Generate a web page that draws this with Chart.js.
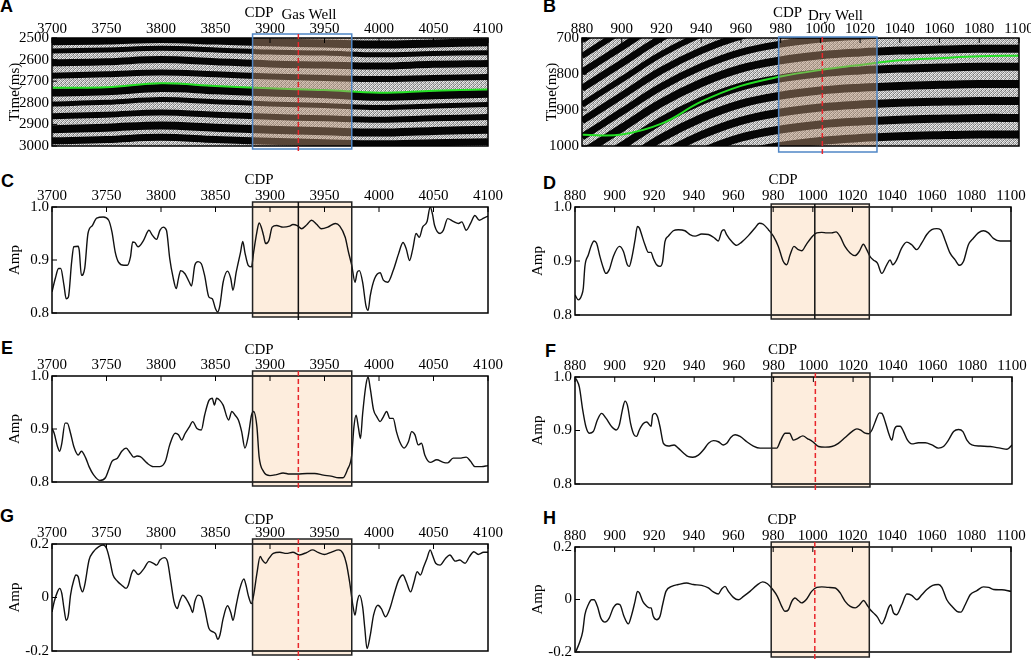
<!DOCTYPE html>
<html>
<head>
<meta charset="utf-8">
<script src="https://cdn.jsdelivr.net/npm/chart.js@4.4.1/dist/chart.umd.min.js"></script>
<style>
  body { margin: 0; background: #fff; width: 1031px; height: 660px; position: relative; overflow: hidden; }
  canvas { position: absolute; }
  .tag { position: absolute; font: bold 18px "Liberation Sans", Arial, sans-serif; color: #000; }
</style>
</head>
<body>
<div class="tag" style="left:0px;top:-4px">A</div>
<div class="tag" style="left:543px;top:-4px">B</div>
<div class="tag" style="left:1px;top:171px">C</div>
<div class="tag" style="left:543px;top:173px">D</div>
<div class="tag" style="left:1px;top:338px">E</div>
<div class="tag" style="left:545px;top:341px">F</div>
<div class="tag" style="left:0px;top:506px">G</div>
<div class="tag" style="left:543px;top:508px">H</div>

<canvas id="pA" width="510" height="160" style="left:0;top:0"></canvas>
<canvas id="pB" width="511" height="160" style="left:520px;top:0"></canvas>
<canvas id="pC" width="510" height="160" style="left:0;top:165px"></canvas>
<canvas id="pD" width="511" height="160" style="left:520px;top:165px"></canvas>
<canvas id="pE" width="510" height="160" style="left:0;top:330px"></canvas>
<canvas id="pF" width="511" height="160" style="left:520px;top:330px"></canvas>
<canvas id="pG" width="510" height="165" style="left:0;top:495px"></canvas>
<canvas id="pH" width="511" height="165" style="left:520px;top:495px"></canvas>

<script>
// ---------- data ----------
// seismic sections: horizon picks and main reflectors, time (ms) at CDP nodes
const nodesA = [3700, 3750, 3800, 3850, 3900, 3950, 4000, 4050, 4100];
const horizonA = [2730, 2728, 2710, 2722, 2733, 2741, 2753, 2744, 2738];
const reflectorsA = [
  [2515, 2512, 2505, 2512, 2520, 2525, 2530, 2525, 2520],
  [2560, 2555, 2548, 2555, 2565, 2570, 2578, 2572, 2568],
  [2615, 2610, 2600, 2610, 2620, 2625, 2630, 2622, 2618],
  [2675, 2668, 2660, 2668, 2678, 2685, 2690, 2685, 2680],
  [2752, 2747, 2732, 2742, 2752, 2760, 2772, 2765, 2758],
  [2805, 2798, 2785, 2795, 2805, 2812, 2822, 2815, 2808],
  [2862, 2855, 2845, 2855, 2865, 2872, 2878, 2872, 2866],
  [2922, 2915, 2905, 2915, 2925, 2932, 2938, 2930, 2925],
  [2976, 2970, 2960, 2970, 2978, 2985, 2990, 2985, 2980]
];

const nodesB = [880, 900, 920, 940, 960, 980, 1000, 1020, 1040, 1060, 1080, 1100];
const horizonB = [969, 968, 938, 877, 833, 807, 789, 775, 762, 756, 751, 749];
const reflectorsB = [
  [660, 590, 520, 465, 425, 402, 388, 380, 375, 372, 370, 370],
  [705, 635, 565, 510, 470, 447, 433, 425, 420, 417, 415, 415],
  [750, 680, 610, 555, 515, 492, 478, 470, 465, 462, 460, 460],
  [795, 725, 655, 600, 560, 537, 523, 515, 510, 507, 505, 505],
  [840, 770, 700, 645, 605, 582, 568, 560, 555, 552, 550, 550],
  [885, 815, 745, 690, 650, 627, 613, 605, 600, 597, 595, 595],
  [930, 860, 790, 735, 695, 672, 658, 650, 645, 642, 640, 640],
  [975, 905, 835, 780, 740, 717, 703, 695, 690, 687, 685, 685],
  [1020, 950, 880, 825, 785, 762, 748, 740, 735, 732, 730, 730],
  [1070, 1000, 930, 875, 835, 812, 798, 790, 785, 782, 780, 780],
  [1118, 1048, 978, 923, 883, 860, 846, 838, 833, 830, 828, 828],
  [1165, 1095, 1025, 970, 930, 907, 893, 885, 880, 877, 875, 875],
  [1212, 1142, 1072, 1017, 977, 954, 940, 932, 927, 924, 922, 922],
  [1258, 1188, 1118, 1063, 1023, 1000, 986, 978, 973, 970, 968, 968]
];

// C: gas well, attribute 1
const cdpC = [3700,3703,3706,3708,3711,3713,3715,3718,3720,3724,3725,3727,3730,3733,3737,3741,3747,3752,3755,3758,
  3761,3766,3769,3772,3774,3776,3779,3784,3789,3792,3796,3799,3802,3805,3808,3811,3814,3816,3818,3822,
  3826,3828,3831,3834,3837,3840,3844,3847,3850,3852,3854,3857,3861,3864,3866,3869,3873,3875,3877,3880,
  3883,3885,3888,3890,3892,3894,3896,3899,3902,3906,3912,3918,3921,3925,3929,3934,3938,3943,3947,3953,
  3960,3964,3969,3972,3975,3978,3980,3982,3985,3988,3990,3992,3996,4001,4004,4008,4013,4018,4022,4025,
  4028,4031,4034,4037,4040,4044,4047,4049,4051,4056,4059,4063,4068,4073,4076,4080,4084,4088,4092,4096,4100];
const ampC = [.840,.865,.884,.884,.852,.827,.830,.896,.925,.926,.918,.871,.884,.950,.965,.979,.981,.975,.953,.915,
  .896,.890,.890,.906,.934,.933,.925,.937,.956,.947,.939,.956,.962,.956,.903,.868,.846,.865,.880,.874,
  .858,.851,.890,.897,.893,.871,.830,.827,.808,.802,.814,.858,.879,.865,.843,.877,.915,.935,.914,.890,
  .887,.915,.953,.970,.962,.947,.931,.937,.962,.965,.962,.964,.967,.965,.959,.967,.975,.967,.959,.962,
  .969,.964,.943,.915,.890,.858,.877,.880,.858,.814,.805,.833,.865,.876,.862,.858,.880,.912,.933,.921,
  .899,.921,.950,.943,.962,.972,1.000,.987,.965,.950,.956,.978,.973,.969,.972,.956,.969,.984,.975,.979,.983];

// D: dry well, attribute 1
const cdpD = [880.0,881.7,883.4,884.2,885.0,886.7,888.4,889.6,890.9,892.6,894.3,895.6,897.3,899.3,902.4,904.4,906.4,907.4,908.6,910.3,
  911.5,912.5,913.6,915.3,917.0,918.4,919.5,921.2,922.9,924.2,925.4,927.1,929.6,932.1,935.5,938.0,940.6,943.9,947.3,950.6,
  952.3,954.0,955.2,956.5,959.1,961.6,964.1,967.5,970.8,973.0,975.0,977.6,980.1,982.6,985.1,986.8,988.5,990.5,992.7,994.4,
  996.6,999.4,1002.0,1004.5,1007.0,1009.5,1011.7,1013.7,1016.2,1018.8,1021.3,1023.5,1025.5,1027.2,1028.9,1030.5,1032.6,1034.8,1037.3,1039.0,
  1040.3,1042.3,1044.8,1047.4,1049.9,1052.4,1054.9,1057.5,1060.0,1062.5,1064.5,1066.7,1069.2,1071.8,1074.0,1076.0,1078.5,1081.0,1083.5,1086.1,
  1088.6,1091.1,1094.5,1100];
const ampD = [.837,.828,.837,.850,.890,.911,.930,.937,.933,.908,.887,.877,.884,.908,.927,.918,.893,.890,.905,.939,
  .964,.961,.949,.930,.916,.916,.905,.893,.890,.899,.936,.946,.956,.958,.956,.949,.946,.950,.949,.942,
  .937,.955,.958,.949,.936,.929,.935,.947,.961,.970,.968,.958,.946,.927,.899,.893,.911,.927,.921,.919,
  .930,.944,.952,.953,.952,.952,.954,.946,.927,.915,.910,.918,.931,.921,.908,.902,.896,.877,.893,.902,
  .893,.902,.924,.935,.930,.921,.933,.949,.958,.960,.958,.939,.915,.902,.892,.899,.930,.942,.952,.956,
  .952,.942,.937,.937];

// E: gas well, attribute 2
const cdpE = [3700,3702,3705,3707,3709,3712,3714,3717,3720,3724,3727,3731,3734,3738,3744,3749,3752,3755,3760,3764,
  3768,3772,3775,3778,3781,3787,3793,3799,3804,3808,3813,3816,3819,3822,3826,3829,3833,3837,3840,3844,
  3847,3849,3851,3854,3857,3862,3865,3868,3871,3874,3877,3880,3883,3885,3888,3890,3894,3900,3906,3912,
  3918,3925,3934,3941,3949,3956,3963,3967,3971,3975,3977,3979,3981,3983,3985,3988,3990,3992,3995,3998,
  4001,4004,4007,4010,4013,4016,4019,4023,4027,4030,4033,4036,4039,4042,4047,4053,4059,4063,4068,4074,
  4080,4084,4088,4094,4100];
const ampE = [.901,.892,.867,.858,.873,.911,.911,.892,.867,.851,.858,.845,.829,.814,.803,.808,.823,.839,.845,.858,
  .864,.854,.847,.849,.848,.836,.829,.829,.839,.870,.892,.889,.879,.891,.904,.914,.901,.898,.926,.954,
  .958,.945,.958,.954,.945,.917,.933,.926,.917,.895,.864,.886,.926,.933,.904,.848,.820,.812,.814,.817,
  .815,.815,.816,.816,.813,.811,.808,.808,.823,.851,.904,.926,.904,.882,.929,.983,.998,.976,.936,.923,
  .914,.923,.933,.920,.920,.895,.876,.864,.876,.895,.889,.870,.873,.851,.837,.842,.837,.836,.845,.845,
  .847,.839,.829,.829,.831];

// F: dry well, attribute 2
const cdpF = [880.5,882.2,883.9,885.5,887.2,889.2,891.3,893.4,895.6,898.5,900.7,902.3,904.0,905.2,906.4,908.0,909.7,911.0,912.4,914.4,
  916.1,918.3,919.1,920.3,921.5,922.8,924.5,927.0,929.9,932.0,934.6,937.1,939.3,942.1,944.7,947.2,949.7,952.2,954.7,956.4,
  958.4,960.6,963.1,966.5,969.8,973.2,977.4,981.6,983.6,985.8,988.0,990.0,992.0,994.7,997.0,999.7,1002.6,1005.9,1009.3,1012.6,
  1016.0,1019.4,1021.9,1023.6,1026.1,1027.8,1029.5,1031.1,1033.3,1034.5,1036.2,1037.9,1039.5,1040.7,1042.1,1043.7,1045.4,1047.4,1049.6,1052.9,
  1056.3,1059.7,1063.0,1065.5,1068.0,1070.6,1073.1,1075.3,1077.3,1079.8,1084.0,1089.1,1094.1,1097.5,1100];
const ampF = [.997,.981,.938,.907,.895,.898,.920,.932,.923,.907,.901,.910,.941,.955,.947,.913,.892,.889,.901,.913,
  .916,.908,.929,.932,.926,.907,.876,.871,.873,.867,.858,.851,.850,.854,.864,.876,.881,.879,.873,.876,
  .887,.892,.889,.879,.871,.867,.867,.867,.882,.895,.895,.882,.885,.890,.885,.879,.870,.869,.870,.876,
  .887,.898,.903,.901,.895,.894,.901,.916,.933,.932,.916,.895,.882,.901,.908,.908,.898,.882,.875,.877,
  .877,.873,.867,.870,.882,.898,.902,.898,.882,.873,.871,.870,.867,.865,.873];

// G: gas well, attribute 3
const cdpG = [3700,3702,3705,3707,3709,3711,3713,3715,3717,3720,3722,3724,3726,3728,3730,3734,3738,3743,3747,3750,
  3753,3756,3760,3764,3768,3770,3773,3775,3779,3784,3789,3793,3796,3799,3803,3806,3809,3812,3815,3817,
  3820,3823,3827,3829,3831,3834,3837,3840,3844,3848,3850,3852,3854,3857,3861,3864,3866,3869,3872,3876,
  3878,3880,3883,3885,3888,3891,3893,3896,3899,3903,3909,3915,3921,3927,3934,3939,3944,3950,3956,3963,
  3967,3970,3973,3976,3978,3980,3982,3985,3987,3989,3992,3995,3999,4002,4006,4010,4014,4018,4022,4025,
  4029,4032,4035,4038,4041,4044,4047,4049,4052,4056,4061,4065,4070,4074,4079,4083,4087,4091,4096,4100];
const ampG = [-.054,-.016,.021,.034,.015,-.041,-.085,-.066,.009,.065,.084,.078,.040,.021,.046,.140,.171,.190,.196,.184,
  .140,.084,.061,.046,.034,.046,.090,.103,.086,.106,.134,.128,.121,.140,.149,.134,.059,-.016,-.041,-.016,
  .009,-.004,-.035,-.056,-.016,.009,.003,-.041,-.116,-.129,-.135,-.156,-.141,-.079,-.031,-.056,-.085,-.029,.028,.069,
  .046,.009,-.023,.009,.090,.153,.140,.128,.146,.165,.169,.165,.169,.159,.169,.178,.169,.161,.169,.178,
  .165,.128,.059,-.029,-.066,-.016,.009,-.035,-.116,-.191,-.141,-.066,-.029,-.041,-.072,-.041,.015,.065,.084,.059,
  .021,.056,.096,.084,.115,.146,.178,.159,.128,.121,.146,.159,.136,.140,.128,.153,.171,.161,.169,.169];

// H: dry well, attribute 3
const cdpH = [880.5,882.2,883.9,885.0,886.7,888.4,889.6,891.3,893.0,895.1,897.3,899.3,901.4,902.7,904.7,906.9,908.6,910.3,911.5,912.5,
  914.2,916.2,917.5,918.4,919.5,921.2,922.9,924.2,925.9,928.8,932.1,936.3,939.7,943.9,947.3,949.8,952.3,954.0,955.7,957.4,
  959.9,962.4,965.0,968.3,971.7,974.7,977.1,979.8,982.1,984.3,986.0,987.7,989.4,991.0,992.7,994.4,996.6,999.4,1002.0,1004.5,
  1007.9,1011.3,1013.8,1016.3,1018.9,1021.4,1023.6,1025.6,1027.3,1029.0,1030.6,1032.7,1034.8,1036.5,1038.2,1039.3,1040.7,1042.3,1044.9,1047.4,
  1049.9,1052.5,1055.0,1057.5,1060.5,1063.4,1065.1,1067.6,1070.2,1072.7,1074.7,1076.9,1079.4,1082.8,1086.1,1088.7,1091.2,1095.4,1100];
const ampH = [-.197,-.166,-.121,-.058,-.020,-.001,-.001,-.026,-.070,-.086,-.070,-.032,-.017,-.020,-.064,-.093,-.058,-.007,.031,.025,
  -.007,-.026,-.032,-.032,-.064,-.077,-.064,-.020,.031,.050,.057,.063,.057,.054,.044,.029,.021,.040,.050,.031,
  .008,-.001,.012,.031,.054,.067,.060,.038,.012,-.026,-.045,-.039,-.007,.006,-.004,-.013,-.001,.031,.046,.048,
  .046,.044,.025,-.007,-.026,-.032,-.020,-.004,-.020,-.039,-.051,-.068,-.093,-.070,-.032,-.020,-.051,-.058,-.020,.021,
  .016,-.001,.018,.038,.054,.057,.046,-.001,-.026,-.045,-.048,-.020,.018,.034,.048,.046,.038,.037,.031];

// well windows (CDP) and well positions
const gasWindow = [3884, 3975], gasWell = 3926;
const dryWindow = [979, 1028.5], dryWell = 1001;

// ---------- helpers ----------
const serif = '"Liberation Serif", "Times New Roman", serif';
const tickFont = { family: serif, size: 15 };
Chart.defaults.font.family = serif;
Chart.defaults.color = '#000';

const pts = (xs, ys) => xs.map((v, i) => ({ x: v, y: ys[i] }));
const curve = (xs, ys) => ({
  data: pts(xs, ys), borderColor: '#111', borderWidth: 1.4,
  pointRadius: 0, cubicInterpolationMode: 'monotone'
});

// grey speckle tile for the seismic background
function speckle(ctx) {
  const tile = [235, 150, 210, 120, 170, 225, 130, 240, 215, 110, 245, 165, 140, 200, 175, 230];
  const c = document.createElement('canvas');
  c.width = 4; c.height = 4;
  const t = c.getContext('2d');
  tile.forEach((g, i) => { t.fillStyle = `rgb(${g},${g},${g})`; t.fillRect(i % 4, Math.floor(i / 4), 1, 1); });
  return ctx.createPattern(c, 'repeat');
}

const panelPlugin = {
  id: 'panel',
  beforeDatasetsDraw(chart, args, o) {
    const { ctx, chartArea: a, scales: { x } } = chart;
    ctx.save();
    if (o.seismic) {
      ctx.fillStyle = speckle(ctx);
      ctx.fillRect(a.left, a.top, a.width, a.height);
    } else {
      const x0 = x.getPixelForValue(o.box[0]), x1 = x.getPixelForValue(o.box[1]);
      ctx.fillStyle = '#fdeddd';
      ctx.fillRect(x0, a.top - o.up, x1 - x0, a.height + o.up + o.down);
    }
    ctx.restore();
  },
  afterDatasetsDraw(chart, args, o) {
    const { ctx, chartArea: a, scales: { x, y } } = chart;
    const x0 = x.getPixelForValue(o.box[0]), x1 = x.getPixelForValue(o.box[1]);
    ctx.save();
    if (o.seismic) {
      ctx.fillStyle = 'rgba(190,150,120,0.45)';
      ctx.fillRect(x0, a.top, x1 - x0, a.height);
    }
    // frame and inner ticks
    ctx.strokeStyle = '#000';
    ctx.lineWidth = 1.5;
    ctx.strokeRect(a.left, a.top, a.width, a.height);
    ctx.lineWidth = 1;
    ctx.beginPath();
    x.ticks.forEach(t => { const px = x.getPixelForValue(t.value); ctx.moveTo(px, a.top); ctx.lineTo(px, a.top + 5); });
    y.ticks.forEach(t => { const py = y.getPixelForValue(t.value); ctx.moveTo(a.left, py); ctx.lineTo(a.left + 5, py); });
    ctx.stroke();
    // well window
    ctx.strokeStyle = o.seismic ? '#4f86c6' : '#222';
    ctx.lineWidth = 1.5;
    ctx.strokeRect(x0, a.top - o.up, x1 - x0, a.height + o.up + o.down);
    // well line
    const wx = x.getPixelForValue(o.well);
    ctx.strokeStyle = o.wellColor;
    ctx.lineWidth = 1.5;
    ctx.setLineDash(o.dash);
    ctx.beginPath();
    ctx.moveTo(wx, a.top - o.up);
    ctx.lineTo(wx, a.bottom + o.wellDown);
    ctx.stroke();
    ctx.setLineDash([]);
    // CDP tick labels along the top edge
    ctx.fillStyle = '#000';
    ctx.font = '15px ' + serif;
    ctx.textAlign = 'center';
    ctx.textBaseline = 'alphabetic';
    x.ticks.forEach(t => ctx.fillText(String(t.value), x.getPixelForValue(t.value), a.top - o.labelDY));
    // titles
    ctx.textBaseline = 'middle';
    const cx = (a.left + a.right) / 2;
    ctx.fillText('CDP', cx + o.titleDX, a.top - o.titleDY);
    if (o.wellName) ctx.fillText(o.wellName, cx + o.wellDX, a.top - o.wellDY);
    ctx.restore();
  }
};

function panel(id, p) {
  return new Chart(document.getElementById(id), {
    type: 'line',
    data: { datasets: p.datasets },
    plugins: [panelPlugin],
    options: {
      responsive: false,
      animation: false,
      layout: { padding: { left: 0, top: 0, right: p.padR, bottom: p.padB } },
      plugins: { legend: { display: false }, tooltip: { enabled: false }, panel: p.deco },
      scales: {
        x: {
          type: 'linear', position: 'top', min: p.xMin, max: p.xMax,
          ticks: { stepSize: p.xStep, autoSkip: false, maxRotation: 0, display: false },
          grid: { display: false, drawTicks: false }, border: { display: false },
          afterFit(s) { s.height = p.axisH; s.paddingLeft = 0; s.paddingRight = 0; }
        },
        y: {
          type: 'linear', min: p.yMin, max: p.yMax, reverse: !!p.reverse,
          ticks: { stepSize: p.yStep, padding: 3, font: tickFont, color: '#000', callback: p.yFmt },
          title: { display: true, text: p.yTitle, color: '#000', font: tickFont, padding: { top: p.titlePad, bottom: 0 } },
          grid: { display: false, drawTicks: false }, border: { display: false },
          afterFit(s) { s.width = p.axisW; s.paddingTop = 0; s.paddingBottom = 0; }
        }
      }
    }
  });
}

const fmt1 = v => v.toFixed(1);
const fmtZ = v => (Math.abs(v) < 1e-9 ? '0' : v.toFixed(1));
const fmtI = v => String(v);

// seismic datasets: horizon first so it is drawn on top of the reflectors
const seismic = (nodes, rows, widths, horizon) =>
  [{ data: pts(nodes, horizon), borderColor: '#25e025', borderWidth: 2, pointRadius: 0, tension: 0.4 }]
  .concat(rows.map((r, i) => ({ data: pts(nodes, r), borderColor: '#050505', borderWidth: widths[i % widths.length], pointRadius: 0, tension: 0.4 })));

// band thickness in pixels (style only)
const bandPxA = [8, 5, 7, 6, 8, 5, 6, 8, 7];
const bandPxB = [7, 7, 6, 7, 7, 6, 7, 7, 8, 8, 8, 8, 8, 8];

panel('pA', {
  datasets: seismic(nodesA, reflectorsA, bandPxA, horizonA),
  xMin: 3700, xMax: 4100, xStep: 50, yMin: 2500, yMax: 3000, yStep: 100, reverse: true,
  yFmt: fmtI, yTitle: 'Time(ms)', titlePad: 6, axisH: 38, axisW: 52, padR: 22, padB: 14,
  deco: { seismic: true, box: gasWindow, up: 4, down: 3, well: gasWell, wellColor: '#e8262b', dash: [5, 3], wellDown: 8,
          labelDY: 5, titleDX: -11, titleDY: 25, wellName: 'Gas Well', wellDX: 39, wellDY: 23 }
});
panel('pB', {
  datasets: seismic(nodesB, reflectorsB, bandPxB, horizonB),
  xMin: 880, xMax: 1100, xStep: 20, yMin: 700, yMax: 1000, yStep: 100, reverse: true,
  yFmt: fmtI, yTitle: 'Time(ms)', titlePad: 23, axisH: 38, axisW: 62, padR: 12, padB: 14,
  deco: { seismic: true, box: dryWindow, up: 1, down: 6, well: dryWell, wellColor: '#e8262b', dash: [5, 3], wellDown: 8,
          labelDY: 5, titleDX: -13, titleDY: 25, wellName: 'Dry Well', wellDX: 35, wellDY: 22 }
});
panel('pC', {
  datasets: [curve(cdpC, ampC)],
  xMin: 3700, xMax: 4100, xStep: 50, yMin: 0.8, yMax: 1.0, yStep: 0.1,
  yFmt: fmt1, yTitle: 'Amp', titlePad: 6, axisH: 42, axisW: 52, padR: 22, padB: 12,
  deco: { box: gasWindow, up: 5, down: 4, well: gasWell, wellColor: '#111', dash: [], wellDown: 7, labelDY: 7, titleDX: -11, titleDY: 27 }
});
panel('pD', {
  datasets: [curve(cdpD, ampD)],
  xMin: 880, xMax: 1100, xStep: 20, yMin: 0.8, yMax: 1.0, yStep: 0.1,
  yFmt: fmt1, yTitle: 'Amp', titlePad: 9, axisH: 42, axisW: 55, padR: 20, padB: 10,
  deco: { box: dryWindow, up: 3, down: 4, well: dryWell, wellColor: '#111', dash: [], wellDown: 4, labelDY: 7, titleDX: -10, titleDY: 27 }
});
panel('pE', {
  datasets: [curve(cdpE, ampE)],
  xMin: 3700, xMax: 4100, xStep: 50, yMin: 0.8, yMax: 1.0, yStep: 0.1,
  yFmt: fmt1, yTitle: 'Amp', titlePad: 6, axisH: 46, axisW: 52, padR: 22, padB: 8,
  deco: { box: gasWindow, up: 5, down: 4, well: gasWell, wellColor: '#e8262b', dash: [5, 3], wellDown: 8, labelDY: 7, titleDX: -11, titleDY: 26 }
});
panel('pF', {
  datasets: [curve(cdpF, ampF)],
  xMin: 880, xMax: 1100, xStep: 20, yMin: 0.8, yMax: 1.0, yStep: 0.1,
  yFmt: fmt1, yTitle: 'Amp', titlePad: 9, axisH: 47, axisW: 55, padR: 19, padB: 6,
  deco: { box: dryWindow, up: 4, down: 3, well: dryWell, wellColor: '#e8262b', dash: [5, 3], wellDown: 6, labelDY: 7, titleDX: -11, titleDY: 27 }
});
panel('pG', {
  datasets: [curve(cdpG, ampG)],
  xMin: 3700, xMax: 4100, xStep: 50, yMin: -0.2, yMax: 0.2, yStep: 0.2,
  yFmt: fmtZ, yTitle: 'Amp', titlePad: 6, axisH: 49, axisW: 52, padR: 22, padB: 9,
  deco: { box: gasWindow, up: 5, down: 4, well: gasWell, wellColor: '#e8262b', dash: [5, 3], wellDown: 9, labelDY: 7, titleDX: -11, titleDY: 24 }
});
panel('pH', {
  datasets: [curve(cdpH, ampH)],
  xMin: 880, xMax: 1100, xStep: 20, yMin: -0.2, yMax: 0.2, yStep: 0.2,
  yFmt: fmtZ, yTitle: 'Amp', titlePad: 9, axisH: 52, axisW: 55, padR: 20, padB: 8,
  deco: { box: dryWindow, up: 5, down: 5, well: dryWell, wellColor: '#e8262b', dash: [5, 3], wellDown: 8, labelDY: 7, titleDX: -11, titleDY: 27 }
});
</script>
</body>
</html>
